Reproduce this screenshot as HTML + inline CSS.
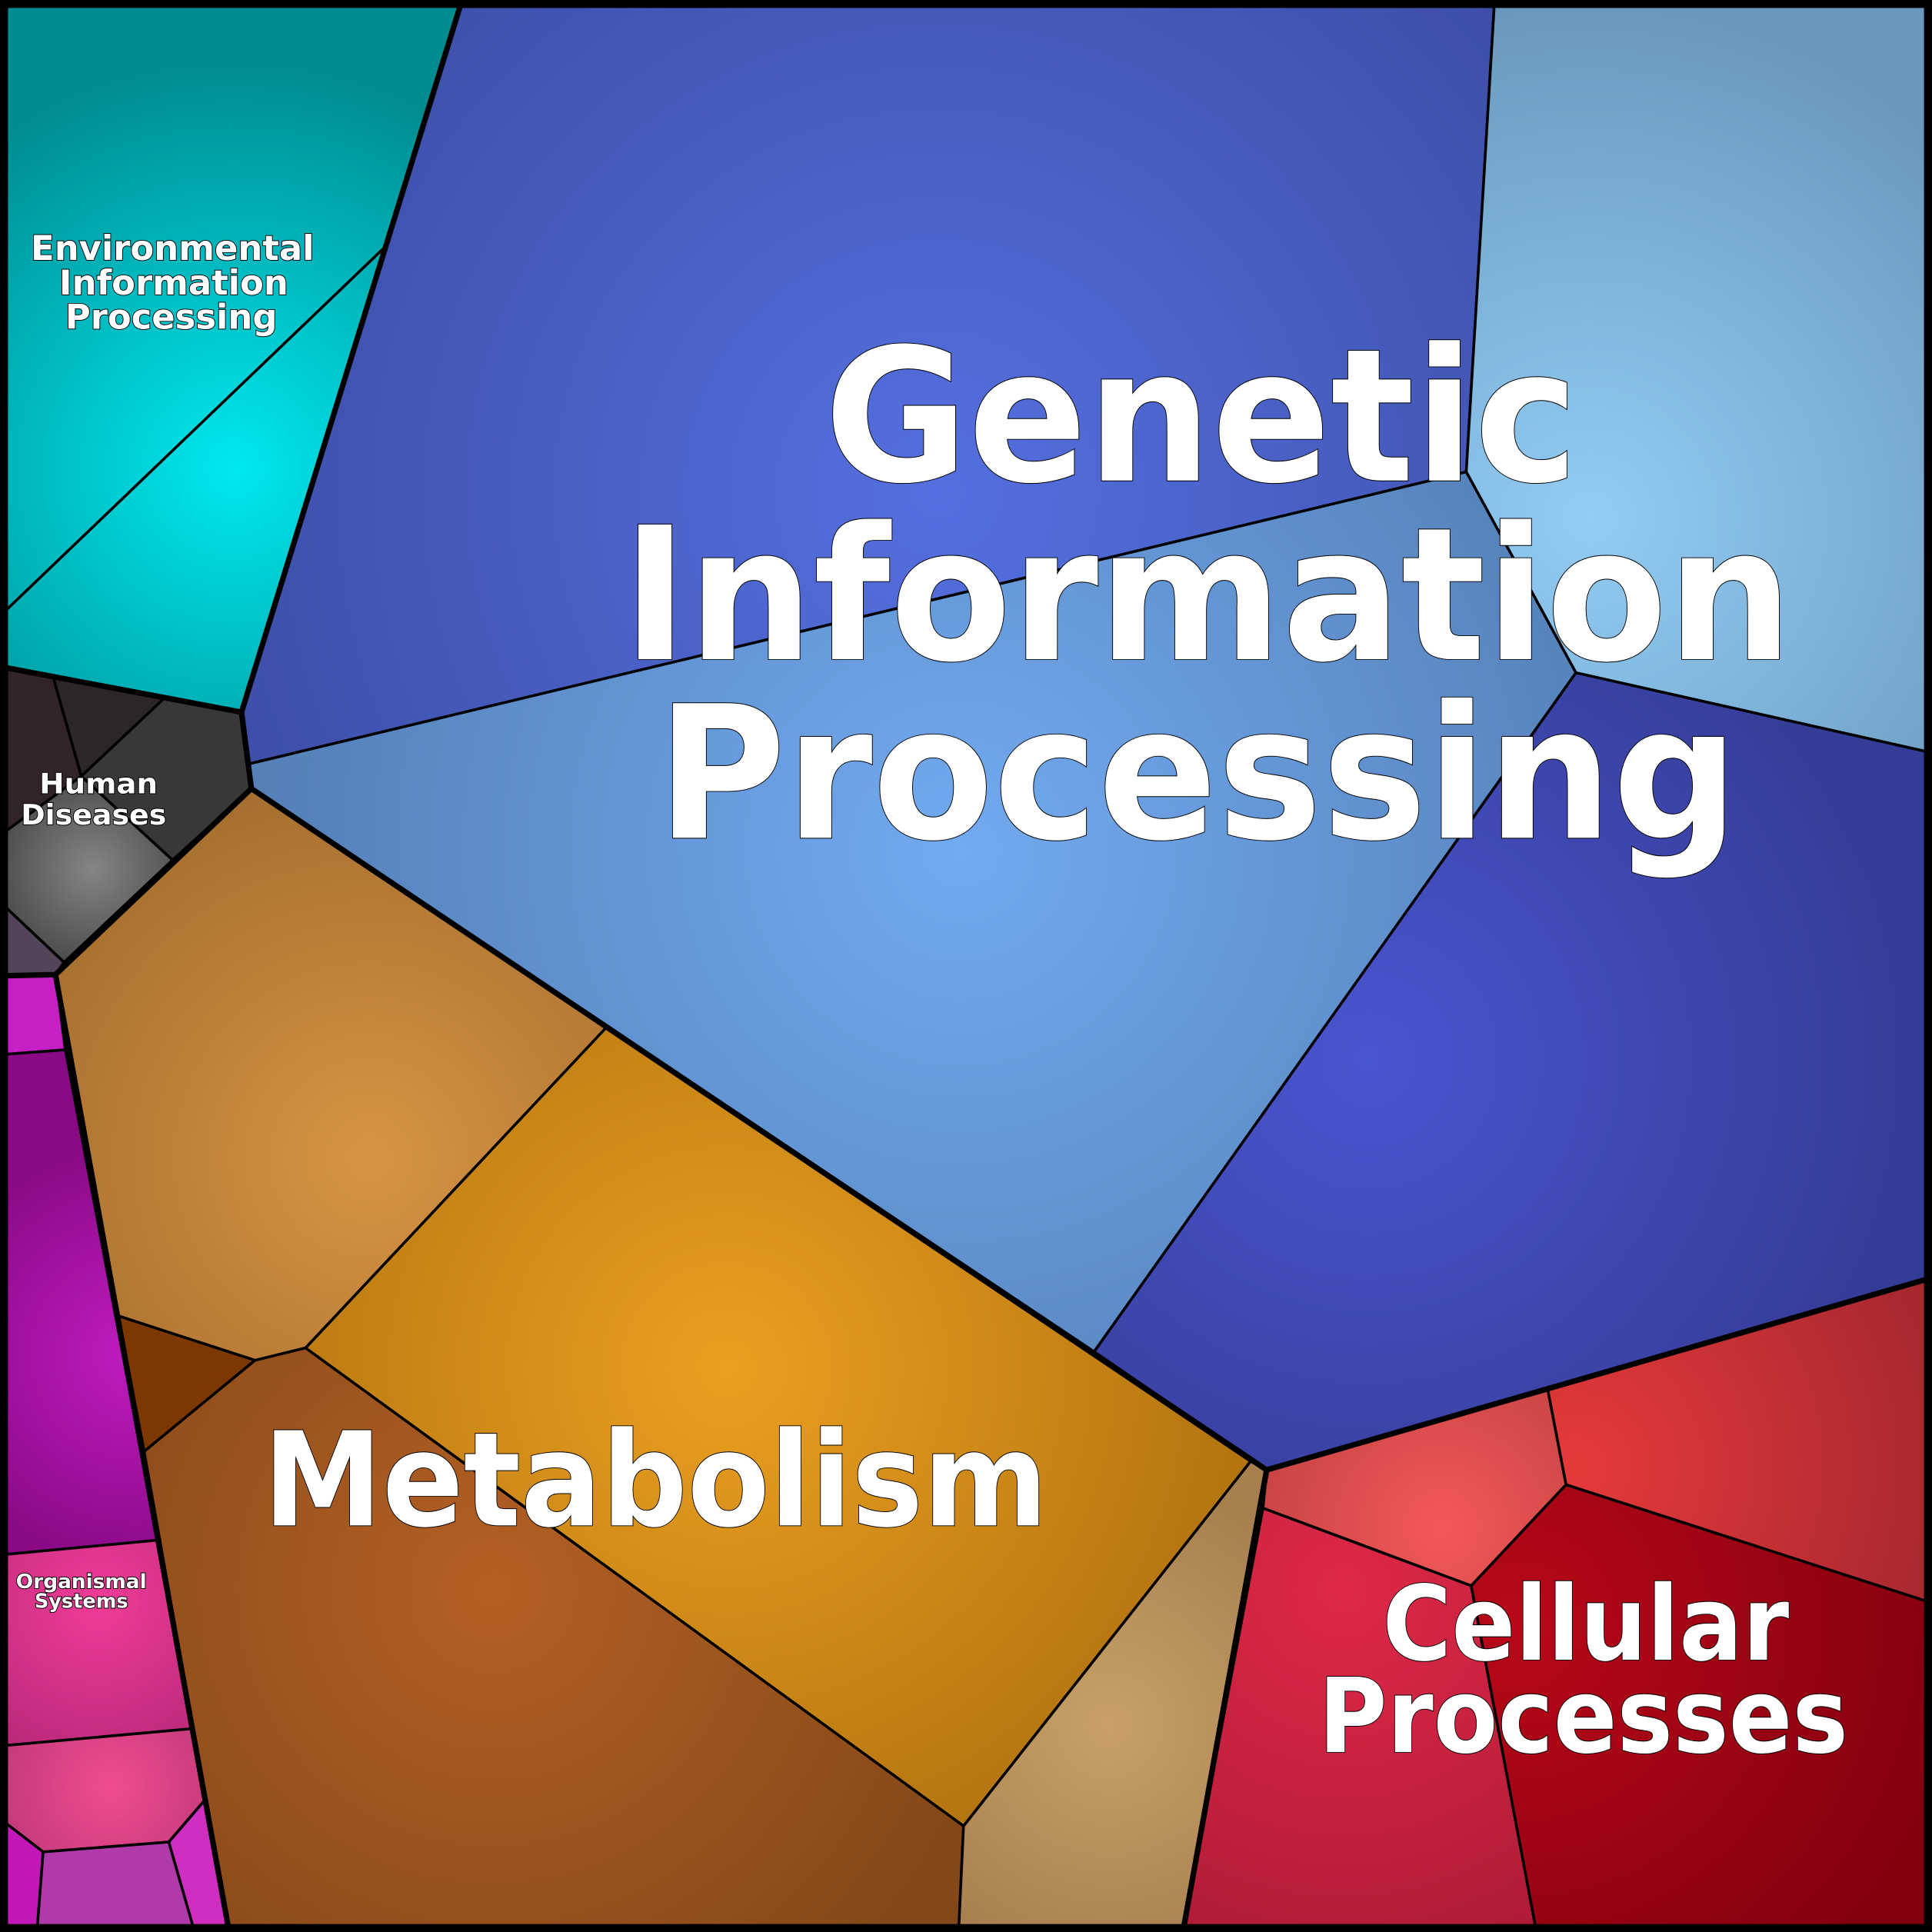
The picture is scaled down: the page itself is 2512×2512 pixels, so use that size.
<!DOCTYPE html>
<html><head><meta charset="utf-8"><style>
html,body{margin:0;padding:0;background:#000;}
svg{display:block;}
text{font-family:"DejaVu Sans","Liberation Sans",sans-serif;font-weight:bold;fill:#fff;stroke:#000;stroke-width:1.2;paint-order:stroke;text-anchor:middle;}
</style></head><body>
<svg width="2512" height="2512" viewBox="0 0 1568 1568" xmlns="http://www.w3.org/2000/svg">
<defs>
<radialGradient id="gEnv" gradientUnits="userSpaceOnUse" cx="190" cy="380" r="330"><stop offset="0" stop-color="#00e8f0"/><stop offset="1" stop-color="#008c90"/></radialGradient>
<radialGradient id="gB1" gradientUnits="userSpaceOnUse" cx="760" cy="400" r="600"><stop offset="0" stop-color="#5470e0"/><stop offset="1" stop-color="#3e4ea8"/></radialGradient>
<radialGradient id="gB2" gradientUnits="userSpaceOnUse" cx="1290" cy="420" r="420"><stop offset="0" stop-color="#92ccf4"/><stop offset="1" stop-color="#6a98bc"/></radialGradient>
<radialGradient id="gB3" gradientUnits="userSpaceOnUse" cx="780" cy="690" r="560"><stop offset="0" stop-color="#72aaf0"/><stop offset="1" stop-color="#5580b8"/></radialGradient>
<radialGradient id="gB4" gradientUnits="userSpaceOnUse" cx="1110" cy="860" r="450"><stop offset="0" stop-color="#4a55d0"/><stop offset="1" stop-color="#353c96"/></radialGradient>
<radialGradient id="gGrey" gradientUnits="userSpaceOnUse" cx="75" cy="705" r="90"><stop offset="0" stop-color="#858585"/><stop offset="1" stop-color="#444"/></radialGradient>
<radialGradient id="gTan" gradientUnits="userSpaceOnUse" cx="300" cy="940" r="300"><stop offset="0" stop-color="#d89444"/><stop offset="1" stop-color="#a87030"/></radialGradient>
<radialGradient id="gOr" gradientUnits="userSpaceOnUse" cx="590" cy="1110" r="420"><stop offset="0" stop-color="#eaa020"/><stop offset="1" stop-color="#b47410"/></radialGradient>
<radialGradient id="gBr" gradientUnits="userSpaceOnUse" cx="400" cy="1290" r="420"><stop offset="0" stop-color="#b46024"/><stop offset="1" stop-color="#844818"/></radialGradient>
<radialGradient id="gTan2" gradientUnits="userSpaceOnUse" cx="900" cy="1400" r="200"><stop offset="0" stop-color="#c8a068"/><stop offset="1" stop-color="#a88050"/></radialGradient>
<radialGradient id="gPur" gradientUnits="userSpaceOnUse" cx="110" cy="1100" r="170"><stop offset="0" stop-color="#c01cc0"/><stop offset="1" stop-color="#8a0a86"/></radialGradient>
<radialGradient id="gPk" gradientUnits="userSpaceOnUse" cx="80" cy="1300" r="140"><stop offset="0" stop-color="#f03c98"/><stop offset="1" stop-color="#b82878"/></radialGradient>
<radialGradient id="gPk2" gradientUnits="userSpaceOnUse" cx="90" cy="1450" r="100"><stop offset="0" stop-color="#f04c90"/><stop offset="1" stop-color="#c03878"/></radialGradient>
<radialGradient id="gR1" gradientUnits="userSpaceOnUse" cx="1170" cy="1240" r="180"><stop offset="0" stop-color="#f45858"/><stop offset="1" stop-color="#c04040"/></radialGradient>
<radialGradient id="gR2" gradientUnits="userSpaceOnUse" cx="1280" cy="1190" r="300"><stop offset="0" stop-color="#e63a3a"/><stop offset="1" stop-color="#a82830"/></radialGradient>
<radialGradient id="gR3" gradientUnits="userSpaceOnUse" cx="1090" cy="1290" r="300"><stop offset="0" stop-color="#e02848"/><stop offset="1" stop-color="#b01c38"/></radialGradient>
<radialGradient id="gR4" gradientUnits="userSpaceOnUse" cx="1230" cy="1320" r="360"><stop offset="0" stop-color="#b80818"/><stop offset="1" stop-color="#840010"/></radialGradient>
</defs>
<g stroke="#000" stroke-width="2.2" stroke-linejoin="round">
<!-- Environmental -->
<polygon fill="url(#gEnv)" points="0,0 375,0 314,199 0,500"/>
<polygon fill="url(#gEnv)" points="0,500 314,199 196,578 0,541"/>
<!-- Genetic -->
<polygon fill="url(#gB1)" points="375,0 1213,0 1190,383 202,620 196,578"/>
<polygon fill="url(#gB2)" points="1213,0 1568,0 1568,611 1279,546 1190,383"/>
<polygon fill="url(#gB3)" points="202,620 1190,383 1279,546 888,1097 204,640"/>
<polygon fill="url(#gB4)" points="1279,546 1568,611 1568,1037 1028,1193 888,1097"/>
<!-- Human diseases -->
<polygon fill="#32222a" points="0,541 43,549 66,630 0,678"/>
<polygon fill="#2c2628" points="43,549 133,567 66,630"/>
<polygon fill="#383838" points="133,567 196,578 204,640 140,698 66,630"/>
<polygon fill="url(#gGrey)" points="0,678 66,630 140,698 52,781 0,732"/>
<polygon fill="#54445a" points="0,732 52,781 45,791 0,792"/>
<!-- Metabolism -->
<polygon fill="url(#gTan)" points="45,791 204,640 492,834 248,1094 207,1104 96,1068"/>
<polygon fill="url(#gOr)" points="492,834 1015,1186 782,1482 248,1094"/>
<polygon fill="#7c3800" points="96,1068 207,1104 117,1178"/>
<polygon fill="url(#gBr)" points="117,1178 207,1104 248,1094 782,1482 778,1568 186,1568"/>
<polygon fill="url(#gTan2)" points="1015,1186 1028,1193 960,1568 778,1568 782,1482"/>
<!-- Organismal -->
<polygon fill="#c620c4" points="0,792 45,791 53,852 0,856"/>
<polygon fill="url(#gPur)" points="0,856 53,852 128,1250 0,1262"/>
<polygon fill="url(#gPk)" points="0,1262 128,1250 156,1403 0,1417"/>
<polygon fill="url(#gPk2)" points="0,1417 156,1403 167,1460 137,1495 35,1503 0,1476"/>
<polygon fill="#c218b8" points="0,1476 35,1503 30,1568 0,1568"/>
<polygon fill="#b03aaa" points="35,1503 137,1495 158,1568 30,1568"/>
<polygon fill="#d02ec0" points="137,1495 167,1460 186,1568 158,1568"/>
<!-- Cellular -->
<polygon fill="url(#gR1)" points="1028,1193 1256,1127 1271,1205 1194,1287 1025,1224"/>
<polygon fill="url(#gR2)" points="1256,1127 1568,1037 1568,1301 1271,1205"/>
<polygon fill="url(#gR3)" points="1025,1224 1194,1287 1247,1568 960,1568"/>
<polygon fill="url(#gR4)" points="1194,1287 1271,1205 1568,1301 1568,1568 1247,1568"/>
</g>
<!-- Category borders -->
<g fill="none" stroke="#000" stroke-width="4.5" stroke-linejoin="round">
<polyline points="375,0 196,578 0,541"/>
<polyline points="196,578 204,640 1028,1193 1568,1037"/>
<polyline points="204,640 45,791 0,792"/>
<polyline points="45,791 186,1568"/>
<polyline points="1028,1193 960,1568"/>
<rect x="3" y="3" width="1562" height="1562" stroke-width="7"/>
</g>
<!-- Labels -->
<text x="975" y="390" font-size="150" textLength="612" lengthAdjust="spacingAndGlyphs">Genetic</text>
<text x="980" y="535" font-size="150" textLength="950" lengthAdjust="spacingAndGlyphs">Information</text>
<text x="972" y="680" font-size="150" textLength="878" lengthAdjust="spacingAndGlyphs">Processing</text>
<text x="532" y="1238" font-size="106" textLength="637" lengthAdjust="spacingAndGlyphs">Metabolism</text>
<text x="1287" y="1347" font-size="84" textLength="330" lengthAdjust="spacingAndGlyphs">Cellular</text>
<text x="1285" y="1422" font-size="84" textLength="430" lengthAdjust="spacingAndGlyphs">Processes</text>
<text x="140" y="211" font-size="28" stroke-width="0.8" textLength="230" lengthAdjust="spacingAndGlyphs">Environmental</text>
<text x="141" y="239" font-size="28" stroke-width="0.8" textLength="186" lengthAdjust="spacingAndGlyphs">Information</text>
<text x="139" y="267" font-size="28" stroke-width="0.8" textLength="172" lengthAdjust="spacingAndGlyphs">Processing</text>
<text x="80" y="644" font-size="23" stroke-width="0.7" textLength="96" lengthAdjust="spacingAndGlyphs">Human</text>
<text x="76" y="669" font-size="23" stroke-width="0.7" textLength="118" lengthAdjust="spacingAndGlyphs">Diseases</text>
<text x="66" y="1289" font-size="16" stroke-width="0.5" textLength="106" lengthAdjust="spacingAndGlyphs">Organismal</text>
<text x="66" y="1305" font-size="16" stroke-width="0.5" textLength="76" lengthAdjust="spacingAndGlyphs">Systems</text>
</svg>
</body></html>
